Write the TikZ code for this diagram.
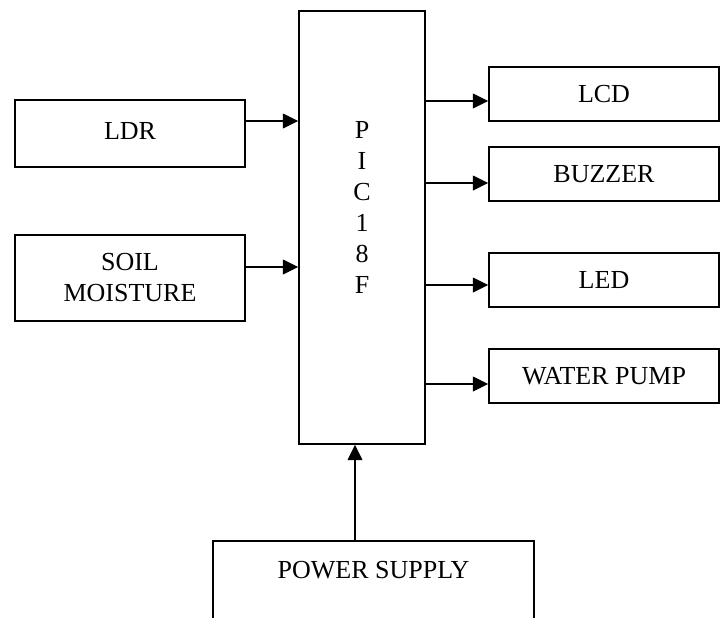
\documentclass[tikz,border=0pt]{standalone}
\usepackage{fontspec}
\setmainfont{Liberation Serif}
\usetikzlibrary{arrows.meta}

\tikzset{
	blk/.style={draw, line width=1.1pt, minimum width=172.5pt, inner sep=0pt, align=center,
		font=\fontsize{19.5}{23.25}\selectfont},
	arr/.style={line width=1.1pt, -{Triangle[length=11.5pt, width=11pt]}}
}

\begin{document}
		\begin{tikzpicture}[x=0.75pt, y=-0.75pt]
			\useasboundingbox (0,0) rectangle (722,618);
			% inputs
			\node[blk, minimum height=50.25pt] (ldr) at (130,133.5) {\raisebox{4pt}{LDR}};
			\node[blk, minimum height=64.5pt] (soil) at (130,278) {SOIL\\MOISTURE};

			% controller
			\node[blk, minimum width=94.5pt, minimum height=324.75pt] (pic) at (362,227.5) {};
			\node[font=\fontsize{19.5}{23.25}\selectfont, align=center] (pictxt) at (362,207) {P\\I\\C\\1\\8\\F};

			% outputs
			\node[blk, minimum height=40.5pt] (lcd) at (604,94) {LCD};
			\node[blk, minimum height=40.5pt] (buz) at (604,174) {BUZZER};
			\node[blk, minimum height=40.5pt] (led) at (604,280) {LED};
			\node[blk, minimum height=40.5pt] (pump) at (604,376) {WATER PUMP};

			% power supply, open at the bottom
			\draw[line width=1.1pt] (213,618) -- (213,541) -- (534,541) -- (534,618);
			\node[font=\fontsize{19.5}{23.25}\selectfont] (psu) at (373.5,570) {POWER SUPPLY};
			\coordinate (ps) at (355,541);

			\coordinate (i1) at (245,121);
			\coordinate (i2) at (245,267);
			\draw[arr] (i1) -- (i1 -| pic.west);
			\draw[arr] (i2) -- (i2 -| pic.west);

			\draw[arr] (pic.east |- 0,101) -- (lcd.west |- 0,101);
			\draw[arr] (pic.east |- 0,183) -- (buz.west |- 0,183);
			\draw[arr] (pic.east |- 0,285) -- (led.west |- 0,285);
			\draw[arr] (pic.east |- 0,384) -- (pump.west |- 0,384);

			\draw[arr] (ps) -- (ps |- pic.south);
		\end{tikzpicture}
\end{document}
